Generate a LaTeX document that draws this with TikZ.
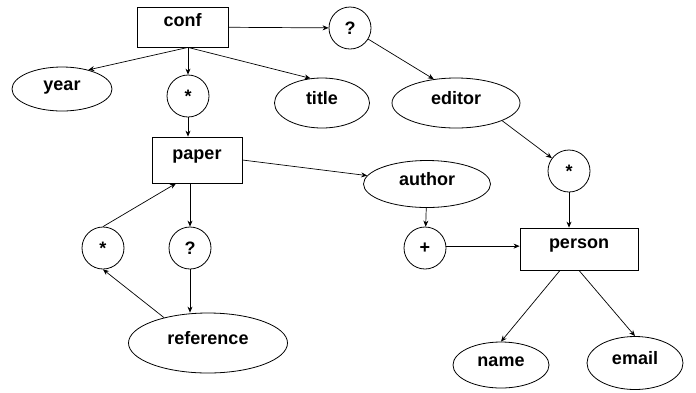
\documentclass[tikz,border=0pt]{standalone}
\usepackage{fontspec}
\setmainfont{Liberation Sans}
\usetikzlibrary{shapes.geometric, arrows.meta, positioning}

\begin{document}
\begin{tikzpicture}[
    x=1pt, y=-1pt,
    element/.style={draw, rectangle, line width=0.8pt, inner sep=0pt, font=\fontsize{18}{20}\selectfont\bfseries, text height=12pt, text depth=13.6pt},
    attrib/.style={draw, ellipse, line width=0.8pt, inner sep=0pt, font=\fontsize{18}{20}\selectfont\bfseries, text height=12pt, text depth=8.6pt},
    card/.style={draw, circle, line width=0.8pt, minimum size=42pt, inner sep=0pt, font=\fontsize{18}{20}\selectfont\bfseries},
    link/.style={-{Stealth[length=6pt, width=5pt]}, line width=0.7pt}
]
    \useasboundingbox (0,0) rectangle (696,392);

    % Elements
    \node[element, minimum width=91pt, minimum height=40pt] (conf) at (182.5,27) {conf};
    \node[element, minimum width=90pt, minimum height=46pt] (paper) at (197,160) {paper};
    \node[element, minimum width=118pt, minimum height=42pt] (person) at (579,249) {person};

    % Attributes
    \node[attrib, minimum width=100pt, minimum height=44pt] (year) at (62,89) {year};
    \node[attrib, minimum width=95pt, minimum height=50pt] (title) at (322,103) {title};
    \node[attrib, minimum width=128pt, minimum height=50pt] (editor) at (456,103) {editor};
    \node[attrib, minimum width=127pt, minimum height=47pt] (author) at (427,184) {author};
    \node[attrib, minimum width=159pt, minimum height=60pt] (reference) at (208,343) {reference};
    \node[attrib, minimum width=96pt, minimum height=46pt] (name) at (501,365) {name};
    \node[attrib, minimum width=96pt, minimum height=53pt] (email) at (635,363) {email};

    % Cardinalities
    \node[card] (opt1) at (350,28) {?};
    \node[card] (star1) at (188,96) {*};
    \node[card] (star2) at (569,171) {*};
    \node[card] (star3) at (103,248) {*};
    \node[card] (opt2) at (190,248) {?};
    \node[card] (plus) at (425,248) {+};

    \coordinate (confout) at (conf.south -| star1.north);

    % Connections
    \draw[link] (conf) -- (opt1);
    \draw[link] (confout) -- (year.36);
    \draw[link] (confout) -- (star1);
    \draw[link] (confout) -- (title.115);
    \draw[link] (opt1) -- (editor.133);
    \draw[link] (star1) -- (star1 |- paper.north);
    \draw[link] (paper.east) -- (author.172);
    \draw[link] (paper.south -| opt2.north) -- (opt2);
    \draw[link] (star3.north) -- ([xshift=-21pt]paper.south);
    \draw[link] (reference.150) -- (star3.south);
    \draw[link] (opt2) -- (opt2 |- reference.north);
    \draw[link] (editor.-21) -- (star2);
    \draw[link] (star2.south) -- (star2.south |- person.north);
    \draw[link] (author) -- (plus);
    \draw[link] (plus.5) -- (plus.5 -| person.west);
    \draw[link] ([xshift=-19pt]person.south) -- (name.north);
    \draw[link] (person.south) -- (email.north);

\end{tikzpicture}
\end{document}
